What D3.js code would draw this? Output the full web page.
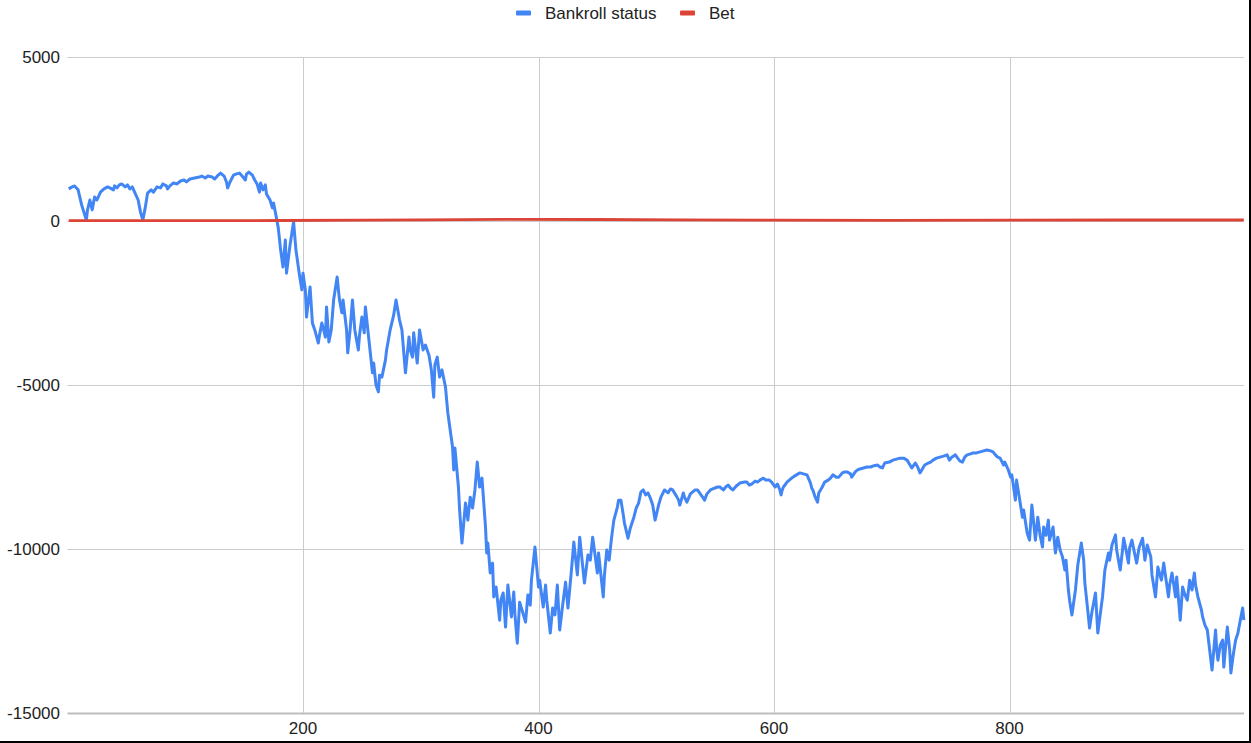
<!DOCTYPE html>
<html>
<head>
<meta charset="utf-8">
<script src="https://cdn.jsdelivr.net/npm/d3@7"></script>
<style>
html,body{margin:0;padding:0;background:#fff;}
svg{display:block;font-family:Arial,"Liberation Sans",sans-serif;}
</style>
</head>
<body>
<svg id="chart" width="1251" height="743"></svg>
<script>
const seriesNames = ["Bankroll status", "Bet"];
const seriesColors = ["#4285f4", "#db4437"];
const yTicks = [5000, 0, -5000, -10000, -15000];
const xTicks = [200, 400, 600, 800];

// [game, bankroll]
const bankroll = [
[1,980],[4,1040],[6,1070],[9,950],[12,490],[16,30],[17,340],[19,640],[21,340],[23,730],[25,640],[28,880],[31,980],[34,1040],[36,1010],[39,950],[40,1070],[42,1010],[44,1100],[46,1130],[49,1040],[51,1100],[53,980],[55,1040],[57,880],[60,640],[62,270],[64,30],[66,400],[68,850],[71,950],[73,880],[76,1040],[79,1010],[81,1130],[84,1070],[85,980],[87,1070],[90,1160],[93,1130],[96,1220],[99,1250],[101,1190],[104,1280],[108,1310],[112,1340],[114,1370],[117,1310],[119,1370],[123,1340],[125,1280],[128,1400],[130,1460],[133,1370],[135,1190],[136,1010],[138,1190],[141,1400],[143,1430],[146,1460],[149,1340],[151,1250],[152,1430],[154,1490],[157,1400],[159,1250],[161,1130],[163,880],[164,1160],[166,950],[168,1100],[169,820],[172,640],[174,400],[175,550],[177,180],[179,-210],[181,-880],[183,-1400],[185,-580],[186,-1590],[189,-730],[192,-30],[194,-880],[197,-1650],[199,-2100],[200,-1590],[202,-2100],[203,-2930],[206,-2010],[208,-3110],[210,-3320],[213,-3720],[214,-3480],[216,-3110],[219,-3540],[220,-2620],[222,-3690],[224,-3320],[226,-2410],[229,-1710],[231,-2410],[233,-2800],[234,-2410],[237,-3320],[238,-4020],[240,-3320],[242,-2410],[244,-3320],[247,-3930],[248,-3480],[250,-2930],[252,-3410],[253,-2620],[256,-3630],[259,-4630],[260,-4330],[262,-5000],[264,-5210],[265,-4700],[267,-4760],[270,-4240],[271,-3930],[274,-3320],[277,-2870],[279,-2410],[282,-3020],[284,-3320],[287,-4630],[290,-3540],[291,-3930],[293,-4150],[294,-3410],[297,-4330],[299,-3320],[302,-3930],[304,-3780],[307,-4090],[309,-4540],[311,-5370],[312,-4390],[314,-4150],[316,-4760],[318,-4540],[321,-5060],[322,-5460],[323,-5850],[325,-6370],[327,-6890],[328,-7590],[329,-6920],[332,-8110],[333,-8810],[335,-9820],[338,-8600],[340,-9120],[342,-8420],[344,-8750],[346,-8200],[348,-7350],[350,-8110],[352,-7840],[355,-9330],[356,-10120],[357,-9820],[359,-10730],[361,-10430],[362,-11460],[364,-11160],[367,-12170],[368,-11560],[370,-11340],[372,-12380],[374,-11100],[377,-12070],[379,-11310],[380,-12010],[382,-12870],[384,-11620],[386,-11860],[389,-12230],[391,-11400],[393,-11710],[394,-10950],[397,-9940],[400,-11160],[401,-10950],[404,-11770],[406,-11100],[407,-11560],[410,-12560],[412,-11800],[414,-12010],[416,-11100],[418,-12470],[420,-11860],[423,-11010],[425,-11800],[428,-10640],[430,-9790],[433,-10790],[435,-9640],[437,-10340],[439,-11040],[442,-10180],[444,-10340],[446,-9640],[448,-10180],[450,-10730],[451,-10120],[453,-10790],[455,-11460],[456,-10790],[458,-10030],[460,-10340],[462,-9670],[464,-9120],[467,-8720],[468,-8510],[470,-8510],[472,-8960],[473,-9210],[476,-9670],[478,-9360],[481,-9030],[483,-8750],[485,-8600],[487,-8260],[489,-8200],[491,-8350],[493,-8290],[495,-8450],[497,-8660],[499,-9120],[502,-8660],[504,-8420],[507,-8200],[510,-8290],[512,-8170],[514,-8200],[517,-8380],[519,-8510],[520,-8660],[523,-8290],[524,-8420],[526,-8570],[529,-8320],[530,-8290],[533,-8200],[535,-8200],[538,-8350],[540,-8450],[541,-8510],[543,-8320],[546,-8200],[548,-8170],[552,-8110],[554,-8110],[557,-8200],[559,-8110],[561,-8050],[563,-8140],[565,-8200],[568,-8080],[571,-7990],[575,-7960],[577,-7960],[579,-8050],[581,-8020],[584,-7930],[586,-7960],[588,-7900],[591,-7840],[593,-7900],[596,-7900],[598,-7960],[601,-8110],[603,-8020],[605,-8200],[606,-8350],[607,-8200],[608,-8110],[610,-8020],[611,-7960],[614,-7870],[616,-7810],[619,-7740],[622,-7680],[625,-7710],[628,-7740],[631,-7990],[632,-8140],[633,-8200],[635,-8420],[637,-8570],[638,-8290],[641,-8110],[643,-7960],[646,-7900],[648,-7840],[650,-7740],[653,-7810],[655,-7810],[658,-7680],[660,-7650],[662,-7650],[665,-7710],[666,-7810],[669,-7650],[671,-7590],[673,-7560],[676,-7530],[679,-7500],[682,-7500],[684,-7470],[688,-7440],[690,-7500],[692,-7530],[694,-7380],[698,-7350],[701,-7290],[704,-7260],[707,-7230],[710,-7230],[713,-7290],[715,-7410],[717,-7530],[720,-7380],[722,-7500],[724,-7680],[726,-7560],[728,-7440],[731,-7380],[733,-7350],[735,-7290],[738,-7230],[741,-7200],[744,-7170],[747,-7130],[749,-7290],[751,-7200],[754,-7130],[756,-7230],[758,-7320],[760,-7350],[762,-7200],[764,-7130],[767,-7100],[769,-7070],[772,-7070],[775,-7040],[778,-7010],[781,-6980],[784,-7010],[786,-7040],[788,-7130],[790,-7200],[792,-7230],[795,-7440],[796,-7350],[799,-7590],[801,-7810],[802,-7740],[805,-8510],[806,-7900],[808,-8350],[811,-9030],[812,-8810],[815,-9510],[817,-9730],[819,-8660],[822,-9730],[824,-9030],[826,-9580],[828,-9940],[829,-9330],[831,-9580],[833,-9120],[834,-9730],[837,-9330],[839,-10120],[841,-9640],[843,-10030],[845,-10240],[847,-10640],[848,-10340],[850,-11250],[851,-11560],[853,-12010],[856,-11250],[858,-10490],[861,-9820],[863,-10340],[864,-11040],[866,-11710],[868,-12410],[870,-11920],[873,-11340],[875,-12560],[877,-12010],[879,-11460],[881,-10640],[884,-10120],[885,-10340],[887,-9880],[890,-9570],[891,-10030],[894,-10640],[896,-10030],[897,-9670],[899,-10030],[901,-10430],[902,-9970],[904,-9730],[906,-10090],[908,-10430],[910,-9970],[913,-9670],[915,-10340],[917,-9880],[920,-10240],[921,-10790],[924,-11460],[926,-10550],[929,-10950],[931,-10430],[933,-10950],[935,-11460],[936,-11100],[938,-10730],[941,-11460],[942,-10850],[945,-12170],[947,-11160],[949,-11400],[951,-11560],[953,-10950],[955,-11250],[957,-10730],[958,-11100],[960,-11460],[963,-11860],[964,-12070],[966,-12320],[968,-12470],[970,-13080],[972,-13690],[975,-12470],[976,-13080],[977,-13390],[979,-12930],[981,-12780],[982,-13600],[985,-12380],[987,-13080],[988,-13780],[990,-13230],[992,-12780],[994,-12560],[996,-12170],[998,-11800],[999,-12170]
];

// [game, bet]
const bet = [
[1,10],[100,10],[180,15],[250,25],[300,35],[370,50],[450,45],[520,35],[600,25],[700,20],[800,25],[900,30],[999,30]
];

const svg = d3.select("#chart");
const W = 1251, H = 743;
svg.append("rect").attr("width", W).attr("height", H).attr("fill", "#fff");

const plotLeft = 67.5, plotRight = 1245, plotTop = 57, plotBottom = 713;
const x = d3.scaleLinear().domain([0, 1000]).range([plotLeft, plotRight]);
const y = d3.scaleLinear().domain([-15000, 5000]).range([plotBottom, plotTop]);

// horizontal gridlines
svg.append("g").selectAll("line").data(yTicks).join("line")
  .attr("x1", plotLeft).attr("x2", 1244)
  .attr("y1", d => Math.round(y(d)) + 0.5).attr("y2", d => Math.round(y(d)) + 0.5)
  .attr("stroke", d => d === -15000 ? "#bdbdbd" : "#cccccc")
  .attr("stroke-width", d => d === -15000 ? 2 : 1);

// vertical gridlines
svg.append("g").selectAll("line").data(xTicks).join("line")
  .attr("x1", d => Math.round(x(d)) + 0.5).attr("x2", d => Math.round(x(d)) + 0.5)
  .attr("y1", plotTop).attr("y2", plotBottom)
  .attr("stroke", "#cccccc").attr("stroke-width", 1);

// y labels
svg.append("g").selectAll("text").data(yTicks).join("text")
  .attr("x", 60).attr("y", d => y(d)).attr("dy", "0.36em")
  .attr("text-anchor", "end").attr("font-size", 17).attr("fill", "#222")
  .text(d => d);

// x labels
svg.append("g").selectAll("text").data(xTicks).join("text")
  .attr("x", d => x(d)).attr("y", 728).attr("dy", "0.36em")
  .attr("text-anchor", "middle").attr("font-size", 17).attr("fill", "#222")
  .text(d => d);

const line = d3.line().x(d => x(d[0])).y(d => y(d[1]));

svg.append("path").datum(bankroll)
  .attr("d", line).attr("fill", "none")
  .attr("stroke", seriesColors[0]).attr("stroke-width", 3)
  .attr("stroke-linejoin", "round");

svg.append("path").datum(bet)
  .attr("d", line).attr("fill", "none")
  .attr("stroke", seriesColors[1]).attr("stroke-width", 2.8)
  .attr("stroke-linejoin", "round");

// legend
const legendX = [516, 680];
const lg = svg.append("g");
seriesNames.forEach((name, i) => {
  lg.append("rect").attr("x", legendX[i]).attr("y", 10.5).attr("width", 15).attr("height", 5)
    .attr("rx", 1).attr("fill", seriesColors[i]);
  lg.append("text").attr("x", legendX[i] + 29).attr("y", 19)
    .attr("font-size", 17).attr("fill", "#222").text(name);
});

// frame edges of the screenshot
svg.append("rect").attr("x", 0).attr("y", 741).attr("width", W).attr("height", 2).attr("fill", "#000");
svg.append("rect").attr("x", 1249).attr("y", 0).attr("width", 2).attr("height", H).attr("fill", "#000");
</script>
</body>
</html>
